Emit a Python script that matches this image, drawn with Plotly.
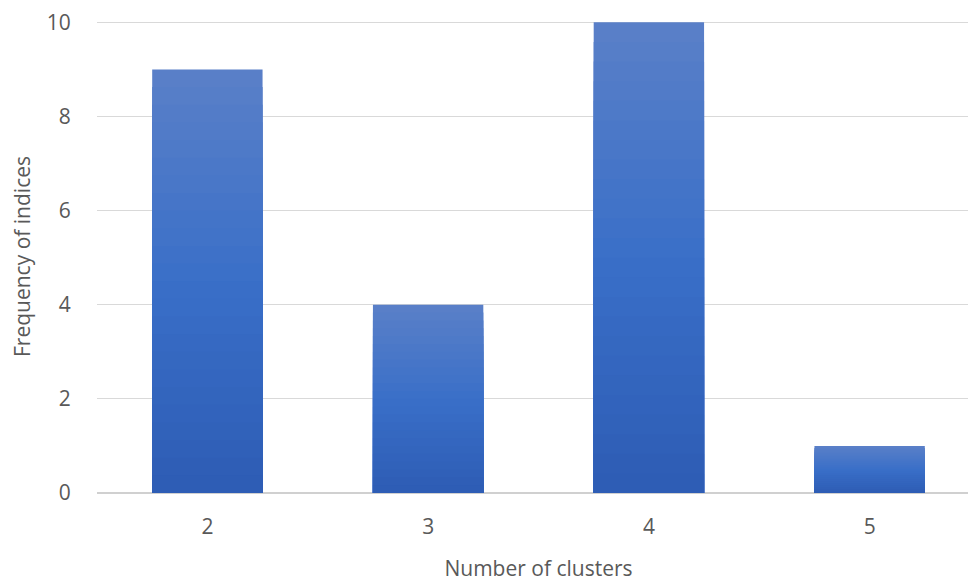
import plotly.graph_objects as go

categories = ["2", "3", "4", "5"]
values = [9, 4, 10, 1]
y_ticks = [0, 2, 4, 6, 8, 10]

# gradient styling: colour stops from top (t=0) to bottom (t=1)
stops = [(0.0, (90, 128, 200)), (0.5, (58, 111, 200)), (1.0, (45, 92, 180))]


def shade(t):
    for (t0, c0), (t1, c1) in zip(stops[:-1], stops[1:]):
        if t0 <= t <= t1:
            u = (t - t0) / (t1 - t0)
            return "rgb(%d,%d,%d)" % tuple(round(a + (b - a) * u) for a, b in zip(c0, c1))
    return "rgb(%d,%d,%d)" % stops[-1][1]


n_layers = 24
fig = go.Figure()
for i in range(n_layers):
    f = 1 - i / n_layers          # height fraction of this layer
    t = (i + 0.5) / n_layers       # position from top
    fig.add_trace(go.Bar(
        x=categories, y=[v * f for v in values],
        marker=dict(color=shade(t), line=dict(width=0)),
        hoverinfo="skip", showlegend=False,
    ))

font = "'Open Sans', sans-serif"
grey = "#595959"
fs = 21
fig.update_layout(
    width=976, height=581,
    barmode="overlay", bargap=0.5,
    plot_bgcolor="white", paper_bgcolor="white",
    margin=dict(l=89, r=4, t=12, b=96),
    font=dict(family=font, size=fs, color=grey),
    showlegend=False,
)
fig.update_xaxes(
    type="category", showgrid=False, showline=False, zeroline=False, automargin=False,
    ticks="outside", ticklen=15, tickcolor="rgba(0,0,0,0)",
    tickfont=dict(size=fs, color=grey),
    title=dict(text="Number of clusters", font=dict(size=fs, color=grey), standoff=22),
)
fig.update_yaxes(
    range=[0, 10.05], tickvals=y_ticks, showgrid=True, gridcolor="#D9D9D9", gridwidth=1,
    zeroline=True, zerolinecolor="#D0D0D0", zerolinewidth=1.5, showline=False,
    automargin=False, ticklabeloverflow="allow",
    ticks="outside", ticklen=21, tickcolor="rgba(0,0,0,0)",
    tickfont=dict(size=fs, color=grey),
    title=dict(text="Frequency of indices", font=dict(size=fs, color=grey), standoff=19),
)

fig.write_html("out.html")
